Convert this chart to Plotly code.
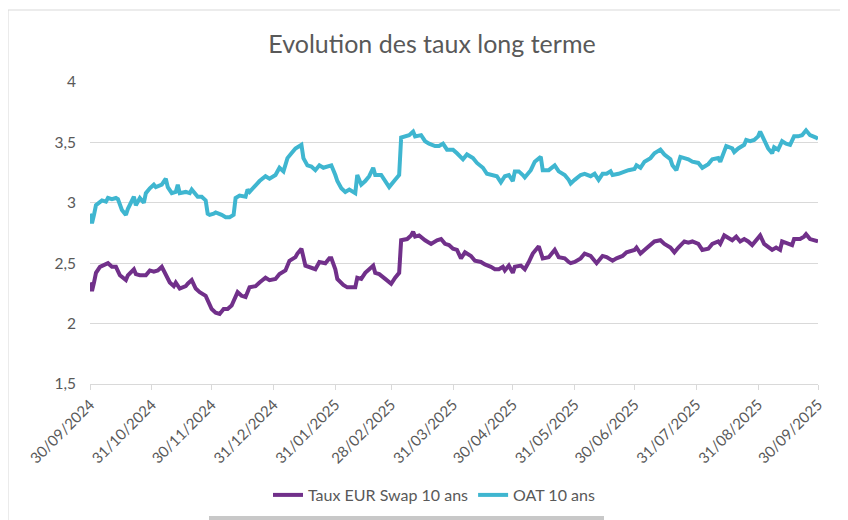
import pandas as pd
import plotly.graph_objects as go

START_DATE = "2024-09-30"

# days since 30/09/2024
oat_days = [
    0, 1, 2, 3, 6, 8, 9, 11, 13, 14, 16, 18, 19, 22, 23, 25, 27, 28, 30, 32, 33, 36, 38, 39,
    41, 43, 44, 45, 48, 50, 51, 53, 54, 56, 58, 59, 60, 62, 63, 66, 68, 70, 72, 73, 75, 78,
    79, 80, 83, 85, 88, 90, 93, 95, 97, 99, 101, 103, 106, 107, 109, 111, 113, 115, 117,
    120, 121, 123, 124, 126, 128, 130, 133, 134, 136, 138, 140, 142, 143, 146, 148, 150,
    153, 155, 156, 158, 160, 162, 163, 166, 168, 170, 173, 175, 177, 179, 182, 184, 187,
    189, 192, 194, 197, 199, 202, 204, 206, 208, 210, 212, 213, 215, 217, 218, 221, 223,
    226, 227, 230, 232, 233, 235, 238, 240, 241, 243, 246, 248, 251, 253, 255, 257, 259,
    261, 262, 265, 268, 270, 273, 274, 276, 278, 281, 283, 286, 288, 291, 292, 294, 296,
    298, 300, 302, 305, 307, 310, 312, 315, 316, 318, 319, 322, 323, 325, 328, 329, 331,
    333, 335, 336, 338, 340, 342, 343, 345, 347, 349, 351, 353, 355, 357, 359, 361, 363,
    364, 365,
]
oat_values = [
    2.91, 2.83, 2.90, 2.98, 3.02, 3.01, 3.04, 3.03, 3.04, 3.03, 2.94, 2.90, 2.95, 3.05,
    2.98, 3.04, 3.00, 3.08, 3.12, 3.15, 3.13, 3.15, 3.20, 3.13, 3.08, 3.09, 3.15, 3.08,
    3.09, 3.08, 3.11, 3.06, 3.05, 3.05, 3.02, 2.91, 2.90, 2.91, 2.92, 2.90, 2.88, 2.88,
    2.90, 3.04, 3.06, 3.05, 3.11, 3.09, 3.15, 3.18, 3.22, 3.20, 3.23, 3.29, 3.26, 3.37,
    3.41, 3.45, 3.48, 3.37, 3.31, 3.30, 3.27, 3.31, 3.29, 3.31, 3.31, 3.23, 3.18, 3.12,
    3.09, 3.11, 3.08, 3.23, 3.15, 3.18, 3.22, 3.29, 3.23, 3.23, 3.18, 3.13, 3.19, 3.23,
    3.54, 3.55, 3.56, 3.59, 3.55, 3.56, 3.51, 3.49, 3.47, 3.47, 3.49, 3.44, 3.44, 3.41,
    3.36, 3.40, 3.37, 3.33, 3.29, 3.24, 3.23, 3.22, 3.17, 3.22, 3.23, 3.18, 3.26, 3.26,
    3.23, 3.21, 3.27, 3.34, 3.38, 3.27, 3.27, 3.30, 3.31, 3.26, 3.23, 3.19, 3.16, 3.19,
    3.23, 3.24, 3.22, 3.24, 3.19, 3.24, 3.24, 3.26, 3.23, 3.24, 3.26, 3.27, 3.28, 3.31,
    3.29, 3.34, 3.37, 3.41, 3.44, 3.40, 3.36, 3.31, 3.27, 3.38, 3.37, 3.36, 3.34, 3.33,
    3.29, 3.32, 3.36, 3.37, 3.34, 3.44, 3.47, 3.45, 3.42, 3.45, 3.48, 3.52, 3.51, 3.52,
    3.55, 3.59, 3.52, 3.45, 3.41, 3.46, 3.44, 3.51, 3.49, 3.48, 3.55, 3.55, 3.56, 3.60,
    3.56, 3.55, 3.54, 3.53,
]

swap_days = [
    0, 1, 2, 3, 5, 8, 9, 11, 13, 15, 18, 19, 22, 23, 25, 28, 30, 32, 34, 36, 38, 40, 42,
    43, 45, 48, 49, 51, 53, 55, 58, 60, 61, 63, 65, 67, 69, 71, 72, 74, 76, 78, 80, 83, 85,
    88, 90, 93, 95, 98, 100, 103, 104, 106, 108, 110, 113, 115, 118, 120, 121, 123, 124,
    127, 129, 133, 134, 136, 138, 140, 142, 143, 145, 148, 151, 153, 155, 156, 159, 161,
    162, 163, 165, 168, 171, 174, 176, 178, 180, 182, 184, 186, 188, 191, 193, 196, 198,
    201, 203, 205, 207, 208, 210, 212, 213, 216, 218, 220, 222, 225, 227, 230, 233, 235,
    238, 240, 241, 243, 246, 248, 251, 254, 257, 259, 262, 264, 267, 269, 273, 274, 276,
    278, 281, 283, 286, 288, 291, 293, 295, 298, 300, 302, 305, 307, 310, 312, 315, 316,
    318, 320, 322, 324, 326, 328, 330, 332, 334, 336, 338, 341, 342, 344, 346, 347, 350,
    352, 353, 356, 358, 359, 361, 363, 365,
]
swap_values = [
    2.34, 2.27, 2.34, 2.42, 2.47, 2.49, 2.50, 2.47, 2.47, 2.40, 2.36, 2.40, 2.45, 2.41,
    2.40, 2.40, 2.44, 2.43, 2.44, 2.47, 2.40, 2.34, 2.31, 2.34, 2.29, 2.31, 2.33, 2.36,
    2.29, 2.26, 2.23, 2.16, 2.12, 2.09, 2.08, 2.12, 2.12, 2.15, 2.19, 2.26, 2.23, 2.22,
    2.30, 2.31, 2.34, 2.38, 2.36, 2.37, 2.41, 2.44, 2.52, 2.55, 2.58, 2.62, 2.48, 2.47,
    2.45, 2.51, 2.50, 2.54, 2.54, 2.45, 2.37, 2.32, 2.30, 2.30, 2.38, 2.37, 2.42, 2.45,
    2.48, 2.42, 2.41, 2.37, 2.33, 2.38, 2.42, 2.69, 2.70, 2.73, 2.76, 2.72, 2.73, 2.69,
    2.66, 2.69, 2.70, 2.66, 2.65, 2.62, 2.61, 2.54, 2.59, 2.56, 2.52, 2.51, 2.49, 2.47,
    2.45, 2.45, 2.47, 2.44, 2.48, 2.42, 2.47, 2.48, 2.45, 2.51, 2.58, 2.64, 2.54, 2.55,
    2.61, 2.55, 2.54, 2.51, 2.50, 2.51, 2.54, 2.58, 2.56, 2.50, 2.56, 2.55, 2.52, 2.54,
    2.56, 2.59, 2.61, 2.63, 2.58, 2.61, 2.65, 2.68, 2.69, 2.66, 2.63, 2.59, 2.63, 2.68,
    2.67, 2.68, 2.66, 2.61, 2.62, 2.66, 2.68, 2.66, 2.73, 2.71, 2.69, 2.72, 2.68, 2.70,
    2.68, 2.65, 2.69, 2.73, 2.66, 2.62, 2.61, 2.63, 2.61, 2.68, 2.66, 2.65, 2.70, 2.70,
    2.72, 2.74, 2.70, 2.69, 2.68,
]

tick_dates = [
    "2024-09-30", "2024-10-31", "2024-11-30", "2024-12-31", "2025-01-31", "2025-02-28",
    "2025-03-31", "2025-04-30", "2025-05-31", "2025-06-30", "2025-07-31", "2025-08-31",
    "2025-09-30",
]

SWAP_COLOR = "#71308A"
OAT_COLOR = "#3FB6D0"
TEXT_COLOR = "#595959"
GRID_COLOR = "#d9d9d9"
FONT = "Lato, Open Sans, sans-serif"

# the page body keeps its default 8px margin, so the figure is drawn 8px right/down
PAGE_OFFSET = 8


def to_dates(days):
    return pd.Timestamp(START_DATE) + pd.to_timedelta(days, unit="D")


fig = go.Figure()
fig.add_trace(
    go.Scatter(
        x=to_dates(swap_days),
        y=swap_values,
        mode="lines",
        name="Taux EUR Swap 10 ans",
        line={"color": SWAP_COLOR, "width": 4},
    )
)
fig.add_trace(
    go.Scatter(
        x=to_dates(oat_days),
        y=oat_values,
        mode="lines",
        name="OAT 10 ans",
        line={"color": OAT_COLOR, "width": 4},
    )
)

tick_ts = pd.to_datetime(tick_dates)
fig.update_xaxes(
    range=[tick_ts[0], tick_ts[-1]],
    tickvals=tick_ts,
    ticktext=[d.strftime("%d/%m/%Y") for d in tick_ts],
    tickangle=-45,
    showgrid=False,
    zeroline=False,
    showline=True,
    linecolor=GRID_COLOR,
    linewidth=1,
    ticks="outside",
    ticklen=5,
    tickcolor=GRID_COLOR,
    tickfont={"size": 15, "color": TEXT_COLOR, "family": FONT},
)
fig.update_yaxes(
    range=[1.5, 4],
    dtick=0.5,
    showgrid=True,
    gridcolor=GRID_COLOR,
    gridwidth=1,
    zeroline=False,
    showline=False,
    ticks="",
    ticklabelstandoff=13,
    tickfont={"size": 15.5, "color": TEXT_COLOR, "family": FONT},
)

# chart frame and the grey bar cropped at the bottom of the screenshot
fig.add_shape(
    type="rect", xref="paper", yref="paper",
    x0=-0.1126, x1=1.2, y0=-0.6, y1=1.2384,
    line={"color": GRID_COLOR, "width": 1}, fillcolor="rgba(0,0,0,0)", layer="below",
)
fig.add_shape(
    type="rect", xref="paper", yref="paper",
    x0=(209 - 90) / 728, x1=(604 - 90) / 728, y0=-0.5, y1=(384 - 516) / 302,
    line={"width": 0}, fillcolor="#c8c8c8",
)

fig.update_layout(
    width=848,
    height=520,
    margin={
        "l": 90 - PAGE_OFFSET,
        "r": 848 - (818 - PAGE_OFFSET),
        "t": 82 - PAGE_OFFSET,
        "b": 520 - (384 - PAGE_OFFSET),
    },
    separators=",.",
    title={
        "text": "Evolution des taux long terme",
        "x": (432 - PAGE_OFFSET) / 848,
        "xanchor": "center",
        "y": 1 - (44 - PAGE_OFFSET) / 520,
        "yanchor": "middle",
        "font": {"size": 25, "color": TEXT_COLOR, "family": FONT},
    },
    legend={
        "orientation": "h",
        "x": 0.4725,
        "xanchor": "center",
        "y": (384 - 495) / 302,
        "yanchor": "middle",
        "font": {"size": 16, "color": TEXT_COLOR, "family": FONT},
        "itemwidth": 30,
    },
    paper_bgcolor="#ffffff",
    plot_bgcolor="#ffffff",
    font={"family": FONT, "color": TEXT_COLOR},
)

fig.write_html("out.html")
